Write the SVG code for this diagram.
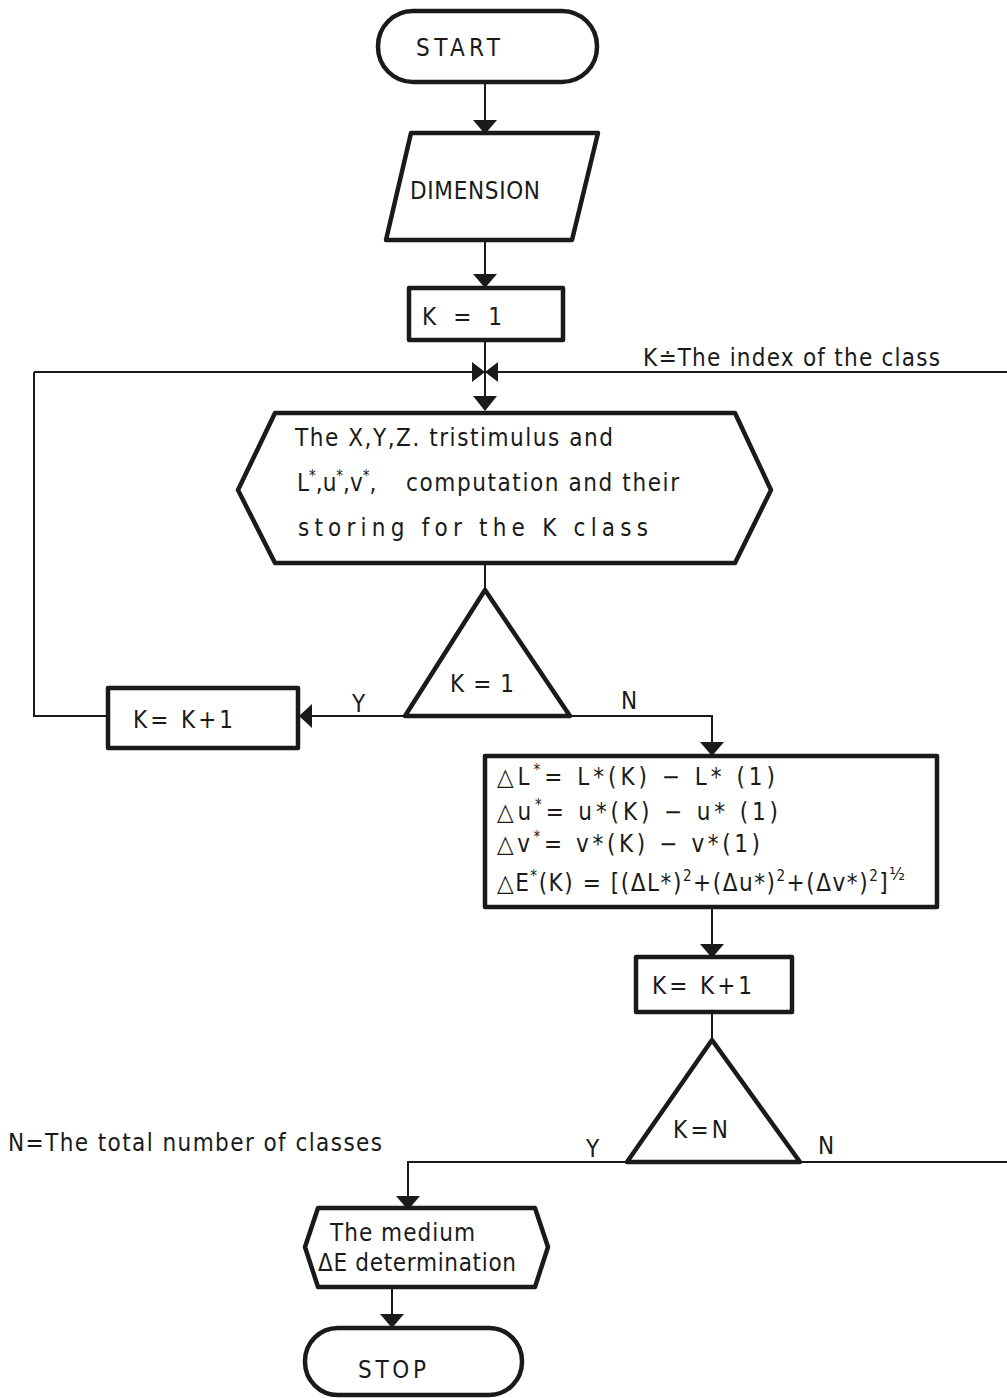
<svg xmlns="http://www.w3.org/2000/svg" width="1007" height="1398" viewBox="0 0 1007 1398">
<style>
.n{fill:#fff;stroke:#1a1a1a;stroke-width:4.5;stroke-linejoin:round}
.c{fill:none;stroke:#1a1a1a;stroke-width:2}
.a{fill:#1a1a1a}
text{font-family:"DejaVu Sans Condensed","DejaVu Sans","Liberation Sans",sans-serif;font-size:24px;fill:#1a1a1a}
.s{font-size:15px}
.f{font-size:24px}
</style>
<rect width="1007" height="1398" fill="#fff"/>
<g id="connectors">
<path class="c" d="M485 82V122"/>
<polygon class="a" points="473,120 497,120 485,134"/>
<path class="c" d="M485 240V276"/>
<polygon class="a" points="473,274 497,274 485,288"/>
<path class="c" d="M485 340V398"/>
<polygon class="a" points="473,396 497,396 485,411"/>
<path class="c" d="M34 372H1007M34 372V716H108"/>
<polygon class="a" points="472,362 485,372 472,382"/>
<polygon class="a" points="498,362 485,372 498,382"/>
<path class="c" d="M485 563V590"/>
<path class="c" d="M405 716H312"/>
<polygon class="a" points="312,704 312,728 299,716"/>
<path class="c" d="M570 716H712V744"/>
<polygon class="a" points="700,742 724,742 712,756"/>
<path class="c" d="M712 907V946"/>
<polygon class="a" points="700,944 724,944 712,958"/>
<path class="c" d="M712 1012V1040"/>
<path class="c" d="M800 1162H1007"/>
<path class="c" d="M627 1162H408V1198"/>
<polygon class="a" points="396,1196 420,1196 408,1210"/>
<path class="c" d="M392 1287V1316"/>
<polygon class="a" points="380,1314 404,1314 392,1328"/>
</g>
<g id="start">
<rect class="n" x="378" y="11" width="219" height="71" rx="35"/>
<text x="416" y="56" textLength="84">START</text>
</g>
<g id="dimension">
<polygon class="n" points="411,133 598,133 572,240 386,240"/>
<text x="410" y="199" textLength="130">DIMENSION</text>
</g>
<g id="k1">
<rect class="n" x="409" y="288" width="154" height="52"/>
<text x="422" y="325" textLength="80">K = 1</text>
</g>
<g id="compute">
<polygon class="n" points="275,413 735,413 771,490 735,563 275,563 238,490"/>
<text x="295" y="446" textLength="318">The X,Y,Z. tristimulus and</text>
<text x="297" y="491">L<tspan class="s" dy="-10">*</tspan><tspan dy="10">,</tspan>u<tspan class="s" dy="-10">*</tspan><tspan dy="10">,</tspan>v<tspan class="s" dy="-10">*</tspan><tspan dy="10">,</tspan></text>
<text x="406" y="491" textLength="273">computation and their</text>
<text x="298" y="536" textLength="350">storing  for  the K class</text>
</g>
<g id="dec1">
<polygon class="n" points="485,590 570,716 405,716"/>
<text x="450" y="692" textLength="64">K = 1</text>
</g>
<g id="inc1">
<rect class="n" x="108" y="688" width="190" height="60"/>
<text x="133" y="728" textLength="100">K= K+1</text>
</g>
<g id="delta">
<rect class="n" x="485" y="756" width="452" height="151"/>
<text class="f" x="497" y="785" textLength="278">△L<tspan class="s" dy="-10">*</tspan><tspan dy="10">= L*(K) − L* (1)</tspan></text>
<text class="f" x="497" y="820" textLength="281">△u<tspan class="s" dy="-10">*</tspan><tspan dy="10">=  u*(K) − u* (1)</tspan></text>
<text class="f" x="497" y="852" textLength="263">△v<tspan class="s" dy="-10">*</tspan><tspan dy="10">=  v*(K) −  v*(1)</tspan></text>
<text class="f" x="497" y="891" textLength="408">△E<tspan class="s" dy="-10">*</tspan><tspan dy="10">(K) = [(ΔL*)</tspan><tspan class="s" dy="-10">2</tspan><tspan dy="10">+(Δu*)</tspan><tspan class="s" dy="-10">2</tspan><tspan dy="10">+(Δv*)</tspan><tspan class="s" dy="-10">2</tspan><tspan dy="10">]</tspan><tspan dy="-11" font-size="18">½</tspan></text>
</g>
<g id="inc2">
<rect class="n" x="636" y="957" width="156" height="55"/>
<text x="652" y="994" textLength="100">K= K+1</text>
</g>
<g id="dec2">
<polygon class="n" points="712,1040 800,1162 627,1162"/>
<text x="673" y="1138" textLength="55">K=N</text>
</g>
<g id="medium">
<polygon class="n" points="318,1208 535,1208 548,1247 535,1287 318,1287 305,1247"/>
<text x="330" y="1241" textLength="145">The  medium</text>
<text x="318" y="1271" textLength="198">ΔE determination</text>
</g>
<g id="stop">
<rect class="n" x="305" y="1328" width="217" height="67" rx="33"/>
<text x="358" y="1378" textLength="68">STOP</text>
</g>
<g id="labels">
<text x="643" y="366" textLength="297">K≐The index of the class</text>
<text x="8" y="1151" textLength="374">N=The total number of classes</text>
<text x="352" y="712">Y</text>
<text x="621" y="709">N</text>
<text x="586" y="1157">Y</text>
<text x="818" y="1154">N</text>
</g>
</svg>
